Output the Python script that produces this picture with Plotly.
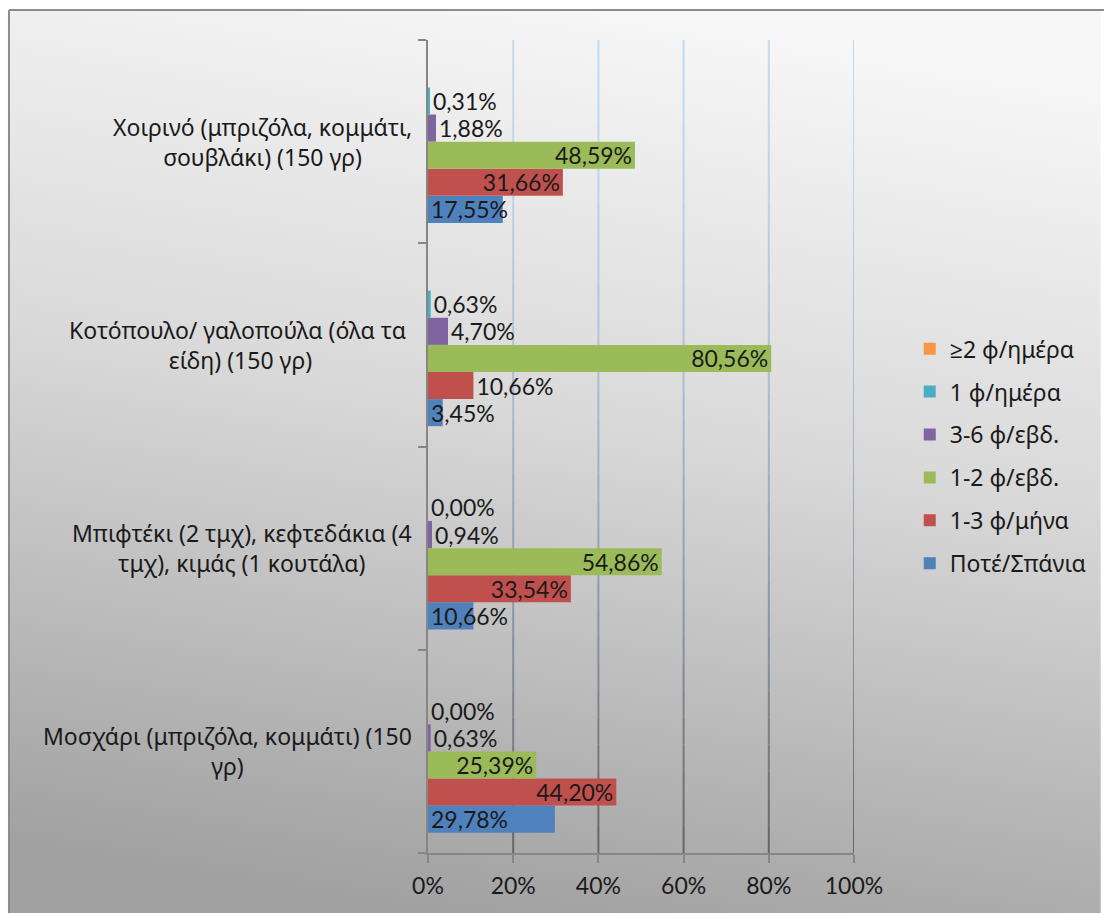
import base64
import plotly.graph_objects as go

# ---------------- data ----------------
categories = [
    "Μοσχάρι (μπριζόλα, κομμάτι) (150 γρ)",
    "Μπιφτέκι (2 τμχ), κεφτεδάκια (4 τμχ), κιμάς (1 κουτάλα)",
    "Κοτόπουλο/ γαλοπούλα (όλα τα είδη) (150 γρ)",
    "Χοιρινό (μπριζόλα, κομμάτι, σουβλάκι) (150 γρ)",
]
category_labels = [
    "Μοσχάρι (μπριζόλα, κομμάτι) (150<br>γρ)",
    "Μπιφτέκι (2 τμχ), κεφτεδάκια (4<br>τμχ), κιμάς (1 κουτάλα)",
    "Κοτόπουλο/ γαλοπούλα (όλα τα <br>είδη) (150 γρ)",
    "Χοιρινό (μπριζόλα, κομμάτι,<br>σουβλάκι) (150 γρ)",
]
series_names = ["Ποτέ/Σπάνια", "1-3 φ/μήνα", "1-2 φ/εβδ.", "3-6 φ/εβδ.", "1 φ/ημέρα", "≥2 φ/ημέρα"]
never_rarely = [29.78, 10.66, 3.45, 17.55]
month_1_3 = [44.20, 33.54, 10.66, 31.66]
week_1_2 = [25.39, 54.86, 80.56, 48.59]
week_3_6 = [0.63, 0.94, 4.70, 1.88]
day_1 = [0.00, 0.00, 0.63, 0.31]
day_2plus = [0.00, 0.00, 0.00, 0.00]
series_values = [never_rarely, month_1_3, week_1_2, week_3_6, day_1, day_2plus]
series_show_labels = [True, True, True, True, True, False]

tick_values = [0, 20, 40, 60, 80, 100]
tick_labels = ["0%", "20%", "40%", "60%", "80%", "100%"]

# ---------------- style ----------------
colors = ["#4f81bd", "#c0504d", "#9bbb59", "#8064a2", "#4bacc6", "#f79646"]
NUMFONT = "Lato, 'Noto Sans', sans-serif"
GRFONT = "'Noto Sans', 'Open Sans', sans-serif"
TXT = "#1a1a1a"
W, H = 1104, 913
ML, MR, MT, MB = 428, 248, 40, 60
PW, PH = W - ML - MR, H - MT - MB


def px_x(px):
    return (px - ML) / PW


def px_y(py):
    return (H - MB - py) / PH


def fmt(v):
    return f"{v:.2f}".replace(".", ",") + "%"


fig = go.Figure()

for i, (name, vals) in enumerate(zip(series_names, series_values)):
    text = [fmt(v) for v in vals] if series_show_labels[i] else None
    if i == 0:
        tpos, anchor = "inside", "start"
    elif i == 1:
        tpos = ["inside" if v > 20 else "outside" for v in vals]
        anchor = "end"
    elif i == 2:
        tpos, anchor = "inside", "end"
    else:
        tpos, anchor = "outside", "end"
    fig.add_trace(go.Bar(
        y=categories, x=vals, orientation="h", name=name,
        marker=dict(color=colors[i], line=dict(width=0)),
        text=text, textposition=tpos, insidetextanchor=anchor,
        textangle=0, constraintext="none", cliponaxis=False,
        textfont=dict(family=NUMFONT, size=23, color=TXT),
        legendgroup=name, legendrank=100 - i, hoverinfo="x+name",
    ))

# background gradient image
svg = (
    '<svg xmlns="http://www.w3.org/2000/svg" width="1097" height="903" '
    'viewBox="0 0 1097 903" preserveAspectRatio="none"><defs>'
    '<linearGradient id="g" x1="0.6" y1="0" x2="0.4" y2="1">'
    '<stop offset="0" stop-color="#f7f7f7"/>'
    '<stop offset="0.45" stop-color="#d9d9d9"/>'
    '<stop offset="1" stop-color="#a1a1a1"/>'
    '</linearGradient></defs>'
    '<rect width="1097" height="903" fill="url(#g)"/></svg>'
)
src = "data:image/svg+xml;base64," + base64.b64encode(svg.encode()).decode()
fig.add_layout_image(dict(
    source=src, xref="paper", yref="paper",
    x=px_x(7), y=px_y(10), sizex=(W - 7) / PW, sizey=(H - 10) / PH,
    xanchor="left", yanchor="top", sizing="stretch", layer="below",
))

shapes = []
# frame
shapes.append(dict(type="line", xref="paper", yref="paper", x0=px_x(7), x1=px_x(7),
                   y0=px_y(10), y1=px_y(H + 5), line=dict(color="#8c8c8c", width=2)))
shapes.append(dict(type="line", xref="paper", yref="paper", x0=px_x(7), x1=px_x(W + 5),
                   y0=px_y(10), y1=px_y(10), line=dict(color="#8c8c8c", width=2)))


# gradient gridlines (light blue at top to dark grey at bottom)
def lerp(c1, c2, t):
    return "rgb(%d,%d,%d)" % tuple(round(a + (b - a) * t) for a, b in zip(c1, c2))


top_c, bot_c = (198, 217, 241), (100, 100, 100)
N = 30
for v in tick_values[1:]:
    for k in range(N):
        t0 = k / N
        t1 = (k + 1) / N
        t = ((t0 + t1) / 2) ** 1.6
        shapes.append(dict(type="line", xref="x", yref="paper", x0=v, x1=v,
                           y0=1 - t0, y1=1 - t1, layer="below",
                           line=dict(color=lerp(top_c, bot_c, t), width=2)))

annotations = []
for cat, lab in zip(categories, category_labels):
    annotations.append(dict(
        x=0, xref="paper", y=cat, yref="y", xanchor="right", yanchor="middle",
        xshift=-14, text=lab, align="center", showarrow=False,
        font=dict(family=GRFONT, size=23, color=TXT),
    ))

fig.update_layout(
    width=W, height=H,
    margin=dict(l=ML, r=MR, t=MT, b=MB, pad=0),
    paper_bgcolor="white", plot_bgcolor="rgba(0,0,0,0)",
    barmode="group", bargap=0.2, bargroupgap=0,
    font=dict(family=NUMFONT, size=23, color=TXT),
    shapes=shapes, annotations=annotations,
    showlegend=True,
    legend=dict(
        x=px_x(912), y=0.488, xanchor="left", yanchor="middle",
        traceorder="grouped", tracegroupgap=10,
        font=dict(family=GRFONT, size=23, color=TXT),
        bgcolor="rgba(0,0,0,0)", itemclick=False,
    ),
    xaxis=dict(
        range=[0, 100], tickvals=tick_values, ticktext=tick_labels,
        showgrid=False, zeroline=False, showline=True, linecolor="#868686", linewidth=1.5,
        ticks="outside", ticklen=8, tickcolor="#868686", tickwidth=1.5,
        ticklabelstandoff=4, tickfont=dict(family=NUMFONT, size=23, color=TXT),
        fixedrange=True,
    ),
    yaxis=dict(
        type="category", categoryorder="array", categoryarray=categories,
        showticklabels=False, showgrid=False, zeroline=False,
        showline=True, linecolor="#868686", linewidth=1.5,
        ticks="outside", tickson="boundaries", ticklen=8, tickcolor="#868686", tickwidth=1.5,
        fixedrange=True,
    ),
)

fig.write_html("out.html")
